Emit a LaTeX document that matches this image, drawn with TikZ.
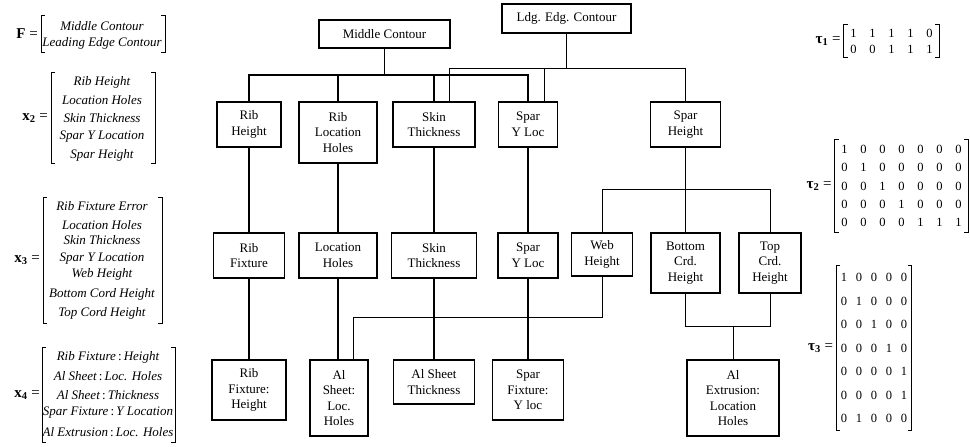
\documentclass[tikz,border=0pt]{standalone}
\usepackage{fontspec}
\setmainfont{Liberation Serif}
\usetikzlibrary{matrix}
\newcommand\bxf{\fontsize{13}{15.5}\selectfont}
\newcommand\enf{\fontsize{13}{15}\selectfont\itshape}
\newcommand\lbf{\fontsize{15}{16}\selectfont}
\newcommand\nmf{\fontsize{12.5}{15}\selectfont}
\newcommand\cln{\,{\upshape:}\,}
\begin{document}
\begin{tikzpicture}[x=1pt,y=-1pt,
  box/.style={draw,line width=1.4pt,align=center,inner sep=0pt,font=\bxf},
  conn/.style={line width=1.1pt},
  link/.style={line width=0.6pt},
  ent/.style={inner sep=0pt,font=\enf},
  lab/.style={inner sep=0pt,font=\lbf,anchor=east},
  br/.style={line width=0.9pt},
  num/.style={inner sep=0pt,font=\nmf}]
\useasboundingbox (0,0) rectangle (970,447);

% ---------- tree boxes ----------
\node[box,minimum width=131pt,minimum height=28pt] (mc) at (384.5,34) {Middle Contour};
\node[box,minimum width=129pt,minimum height=29pt] (lec) at (566.5,18.5) {Ldg. Edg. Contour};

\node[box,minimum width=64pt,minimum height=45pt] (rh) at (249,124.5) {Rib\\Height};
\node[box,minimum width=78pt,minimum height=61pt] (rlh) at (338,132.5) {Rib\\Location\\Holes};
\node[box,minimum width=82pt,minimum height=45pt] (st1) at (434,124.5) {Skin\\Thickness};
\node[box,minimum width=59pt,minimum height=45pt] (sy1) at (528,124.5) {Spar\\Y Loc};
\node[box,minimum width=70pt,minimum height=45pt] (sh) at (685.5,124.5) {Spar\\Height};

\node[box,minimum width=71pt,minimum height=45pt] (rf) at (249,255.5) {Rib\\Fixture};
\node[box,minimum width=78pt,minimum height=45pt] (lh) at (338,255.5) {Location\\Holes};
\node[box,minimum width=85pt,minimum height=45pt] (st2) at (434,255.5) {Skin\\Thickness};
\node[box,minimum width=60pt,minimum height=45pt] (sy2) at (528,255.5) {Spar\\Y Loc};
\node[box,minimum width=61pt,minimum height=43pt] (wh) at (602,254.5) {Web\\Height};
\node[box,minimum width=69pt,minimum height=60pt] (bch) at (685.5,263) {Bottom\\Crd.\\Height};
\node[box,minimum width=62pt,minimum height=60pt] (tch) at (770,263) {Top\\Crd.\\Height};

\node[box,minimum width=74pt,minimum height=60pt] (rfh) at (249,390) {Rib\\Fixture:\\Height};
\node[box,minimum width=58pt,minimum height=76pt] (als) at (339,398) {Al\\Sheet:\\Loc.\\Holes};
\node[box,minimum width=81pt,minimum height=44pt] (ast) at (434,382) {Al Sheet\\Thickness};
\node[box,minimum width=71pt,minimum height=60pt] (sfy) at (528,390) {Spar\\Fixture:\\Y loc};
\node[box,minimum width=92pt,minimum height=76pt] (ael) at (733,398) {Al\\Extrusion:\\Location\\Holes};

% ---------- connectors ----------
\coordinate (hA) at (0,75);
\coordinate (hB) at (0,68);
\coordinate (hC) at (0,189);
\coordinate (hD) at (0,317);
\coordinate (hE) at (0,326);

\draw[conn] (mc.south) -- (mc.south |- hA);
\draw[conn] (rh.north) -- (rh.north |- hA) -- (sy1.north |- hA) -- (sy1.north);
\draw[conn] (rlh.north) -- (rlh.north |- hA);
\draw[conn] (st1.north) -- (st1.north |- hA);

\draw[link] (lec.south) -- (lec.south |- hB);
\draw[link] ([xshift=15pt]st1.north) -- ([xshift=15pt]st1.north |- hB) -- (sh.north |- hB) -- (sh.north);
\draw[link] ([xshift=16pt]sy1.north) -- ([xshift=16pt]sy1.north |- hB);

\draw[conn] (rh) -- (rf);
\draw[conn] (rlh) -- (lh);
\draw[conn] (st1) -- (st2);
\draw[conn] (sy1) -- (sy2);
\draw[conn] (rf) -- (rfh);
\draw[conn] (lh.south) -- (lh.south |- als.north);
\draw[conn] (st2) -- (ast);
\draw[conn] (sy2) -- (sfy);

\draw[link] (sh.south) -- (sh.south |- hC);
\draw[link] (wh.north) -- (wh.north |- hC) -- (tch.north |- hC) -- (tch.north);
\draw[link] (bch.north) -- (bch.north |- hC);

\draw[link] (wh.south) -- (wh.south |- hD) -- ([xshift=14pt]als.north |- hD) -- ([xshift=14pt]als.north);
\draw[link] (bch.south) -- (bch.south |- hE) -- (tch.south |- hE) -- (tch.south);
\draw[link] (ael.north) -- (ael.north |- hE);

% ---------- left vectors ----------
\node[lab] (fl) at (38,34) {\textbf{F} =};
\node[ent] (f1) at (102,26) {Middle Contour};
\node[ent] (f2) at (102,43) {Leading Edge Contour};
\draw[br] (45,15) -- (41,15) -- (41,52) -- (45,52);
\draw[br] (161,15) -- (165,15) -- (165,52) -- (161,52);

\node[lab] (x2l) at (48,118) {\textbf{x}\textsubscript{\textbf{2}} =};
\node[ent] (x21) at (102,82) {Rib Height};
\node[ent] (x22) at (102,100) {Location Holes};
\node[ent] (x23) at (102,118) {Skin Thickness};
\node[ent] (x24) at (102,137) {Spar Y Location};
\node[ent] (x25) at (102,155) {Spar Height};
\draw[br] (55,72) -- (51,72) -- (51,163) -- (55,163);
\draw[br] (151,72) -- (155,72) -- (155,163) -- (151,163);

\node[lab] (x3l) at (40,260) {\textbf{x}\textsubscript{\textbf{3}} =};
\node[ent] (x31) at (102,206) {Rib Fixture Error};
\node[ent] (x32) at (102,225) {Location Holes};
\node[ent] (x33) at (102,240) {Skin Thickness};
\node[ent] (x34) at (102,259) {Spar Y Location};
\node[ent] (x35) at (102,274) {Web Height};
\node[ent] (x36) at (102,294) {Bottom Cord Height};
\node[ent] (x37) at (102,313) {Top Cord Height};
\draw[br] (47,197) -- (43,197) -- (43,323) -- (47,323);
\draw[br] (158,197) -- (162,197) -- (162,323) -- (158,323);

\node[lab] (x4l) at (40,395) {\textbf{x}\textsubscript{\textbf{4}} =};
\node[ent] (x41) at (108,357) {Rib Fixture\cln Height};
\node[ent] (x42) at (108,376) {Al Sheet\cln Loc. Holes};
\node[ent] (x43) at (108,395) {Al Sheet\cln Thickness};
\node[ent] (x44) at (108,413) {Spar Fixture\cln Y Location};
\node[ent] (x45) at (108,432) {Al Extrusion\cln Loc. Holes};
\draw[br] (46,347) -- (42,347) -- (42,442) -- (46,442);
\draw[br] (171,347) -- (175,347) -- (175,442) -- (171,442);

% ---------- right matrices ----------
\matrix (t1) [matrix of nodes, nodes={num,minimum width=19pt,minimum height=16pt},
  column sep=0pt, row sep=0pt, inner sep=0pt] at (891.5,41) {
1 & 1 & 1 & 1 & 0\\
0 & 0 & 1 & 1 & 1\\
};
\node[lab] (t1l) at ([xshift=-3pt]t1.west) {\textbf{τ}\textsubscript{\textbf{1}} =};

\matrix (t2) [matrix of nodes, nodes={num,minimum width=19pt,minimum height=18.4pt},
  column sep=0pt, row sep=0pt, inner sep=0pt] at (901.5,186) {
1 & 0 & 0 & 0 & 0 & 0 & 0\\
0 & 1 & 0 & 0 & 0 & 0 & 0\\
0 & 0 & 1 & 0 & 0 & 0 & 0\\
0 & 0 & 0 & 1 & 0 & 0 & 0\\
0 & 0 & 0 & 0 & 1 & 1 & 1\\
};
\node[lab] (t2l) at ([xshift=-3pt]t2.west) {\textbf{τ}\textsubscript{\textbf{2}} =};

\matrix (t3) [matrix of nodes, nodes={num,minimum width=15pt,minimum height=23.5pt},
  column sep=0pt, row sep=0pt, inner sep=0pt] at (874,348) {
1 & 0 & 0 & 0 & 0\\
0 & 1 & 0 & 0 & 0\\
0 & 0 & 1 & 0 & 0\\
0 & 0 & 0 & 1 & 0\\
0 & 0 & 0 & 0 & 1\\
0 & 0 & 0 & 0 & 1\\
0 & 1 & 0 & 0 & 0\\
};
\node[lab] (t3l) at ([xshift=-3pt]t3.west) {\textbf{τ}\textsubscript{\textbf{3}} =};

\foreach \m in {t1,t2,t3}{
  \draw[br] ([xshift=4pt]\m.north west) -- (\m.north west) -- (\m.south west) -- ([xshift=4pt]\m.south west);
  \draw[br] ([xshift=-4pt]\m.north east) -- (\m.north east) -- (\m.south east) -- ([xshift=-4pt]\m.south east);
}
\end{tikzpicture}
\end{document}
